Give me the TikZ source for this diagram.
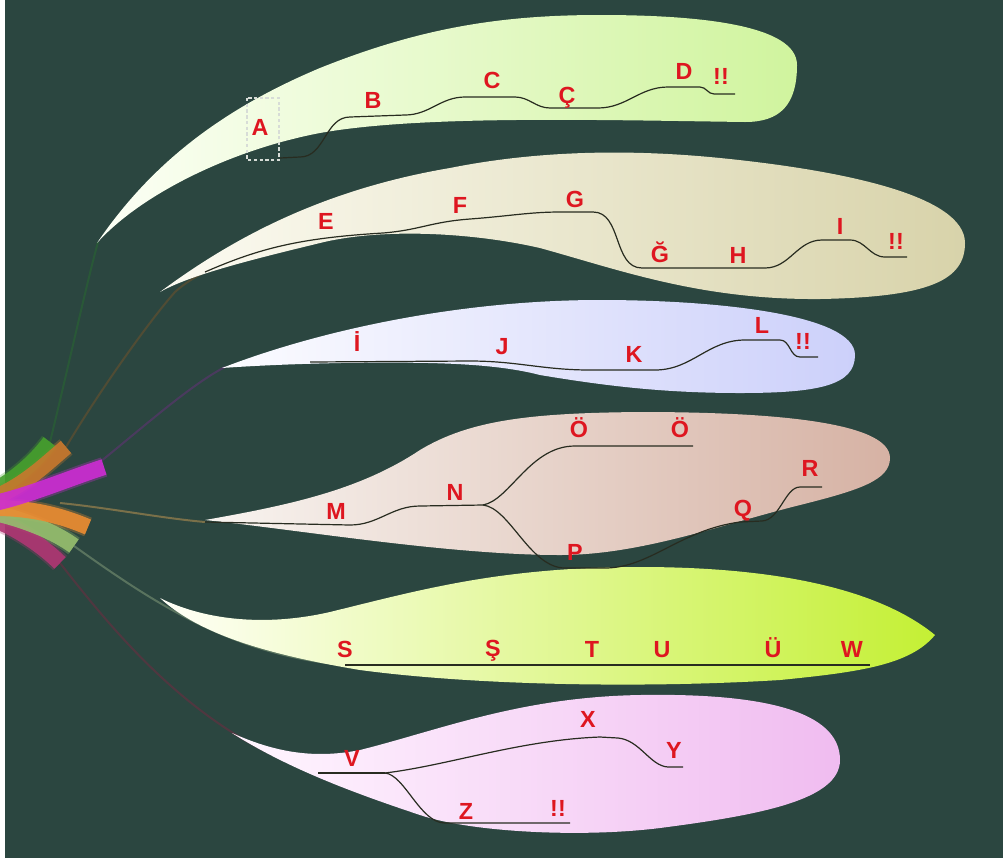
\documentclass[tikz,border=0pt]{standalone}
\usepackage{fontspec}
\setmainfont{Liberation Sans}
\definecolor{bg}{RGB}{43,70,64}
\definecolor{lblred}{RGB}{222,22,32}
\definecolor{ink}{RGB}{40,44,32}
\definecolor{boxgray}{RGB}{215,220,215}
% leaf gradient ends
\definecolor{leafAl}{RGB}{252,255,246}\definecolor{leafAr}{RGB}{208,244,158}
\definecolor{leafBl}{RGB}{252,251,242}\definecolor{leafBr}{RGB}{216,211,170}
\definecolor{leafCl}{RGB}{252,252,255}\definecolor{leafCr}{RGB}{204,208,250}
\definecolor{leafDl}{RGB}{248,244,240}\definecolor{leafDr}{RGB}{214,178,164}
\definecolor{leafEl}{RGB}{255,255,248}\definecolor{leafEr}{RGB}{196,240,52}
\definecolor{leafFl}{RGB}{255,246,255}\definecolor{leafFr}{RGB}{240,188,240}
% fan colours
\definecolor{fanA}{RGB}{70,160,45}
\definecolor{fanB}{RGB}{200,120,45}
\definecolor{fanC}{RGB}{205,45,210}
\definecolor{fanD}{RGB}{235,140,50}
\definecolor{fanE}{RGB}{150,190,110}
\definecolor{fanF}{RGB}{175,55,115}
% thin connector colours
\definecolor{conA}{RGB}{40,100,50}
\definecolor{conB}{RGB}{105,80,45}
\definecolor{conC}{RGB}{95,50,115}
\definecolor{conD}{RGB}{175,140,80}
\definecolor{conE}{RGB}{120,145,115}
\definecolor{conF}{RGB}{105,45,65}
\begin{document}
\begin{tikzpicture}[x=0.75pt,y=-0.75pt,
  lbl/.style={font=\fontsize{17.5}{19}\selectfont\bfseries, text=lblred, anchor=base, inner sep=0pt},
  trail/.style={draw=ink, line width=0.9pt},
  fanstroke/.style={line width=12pt, line cap=butt, opacity=0.9},
  fanhalo/.style={line width=15pt, line cap=butt, opacity=0.3},
  thincon/.style={line width=1.5pt, opacity=0.6},
  markbox/.style={draw=boxgray, line width=0.8pt, dash pattern=on 2.5pt off 1.8pt}]

% background
\fill[bg] (0,0) rectangle (1003,858);
\fill[white] (0,0) rectangle (5,858);
\useasboundingbox (0,0) rectangle (1003,858);

% ---------- fan ends and leaf tips ----------
\coordinate (f1) at (50,442);
\coordinate (f2) at (66,447);
\coordinate (f3) at (95,466);
\coordinate (f4) at (60,503);
\coordinate (f5) at (74,546);
\coordinate (f6) at (60,563);
\coordinate (t1) at (98,242);
\coordinate (t2) at (205,272);
\coordinate (t3) at (225,367);
\coordinate (t4) at (205,522);
\coordinate (t5) at (345,665);
\coordinate (t6) at (318,773);

% ---------- thin connectors from the fan ----------
\draw[thincon, conA] (f1) .. controls (70,360) and (85,290) .. (t1);
\draw[thincon, conB] (f2) .. controls (100,390) and (150,320) .. (175,292) .. controls (185,283) and (195,277) .. (t2);
\draw[thincon, conC] (f3) .. controls (140,430) and (190,385) .. (t3);
\draw[thincon, conD] (f4) .. controls (110,508) and (160,518) .. (t4);
\draw[thincon, conE] (f5) .. controls (150,600) and (230,655) .. (t5);
\draw[thincon, conF] (f6) .. controls (120,640) and (200,735) .. (t6);

% ---------- leaves ----------
\shade[left color=leafAl, right color=leafAr]
  (97,243) .. controls (150,165) and (220,110) .. (320,68)
  .. controls (420,28) and (500,15) .. (600,15)
  .. controls (700,15) and (797,25) .. (797,65)
  .. controls (797,105) and (780,122) .. (745,122)
  .. controls (600,120) and (420,115) .. (320,133)
  .. controls (230,150) and (140,195) .. (97,243) -- cycle;

\shade[left color=leafBl, right color=leafBr]
  (160,292) .. controls (230,240) and (320,190) .. (450,168)
  .. controls (530,152) and (620,148) .. (720,158)
  .. controls (840,170) and (965,195) .. (965,243)
  .. controls (965,280) and (930,297) .. (820,299)
  .. controls (700,300) and (620,270) .. (540,248)
  .. controls (470,232) and (380,228) .. (320,243)
  .. controls (250,260) and (190,275) .. (160,292) -- cycle;

\shade[left color=leafCl, right color=leafCr]
  (222,368) .. controls (320,330) and (460,300) .. (600,300)
  .. controls (720,300) and (855,315) .. (855,355)
  .. controls (855,385) and (820,393) .. (740,393)
  .. controls (660,393) and (600,385) .. (540,375)
  .. controls (490,362) and (420,362) .. (340,363)
  .. controls (290,364) and (250,366) .. (222,368) -- cycle;

\shade[left color=leafDl, right color=leafDr]
  (205,520) .. controls (290,505) and (360,490) .. (420,450)
  .. controls (470,420) and (530,413) .. (640,412)
  .. controls (760,412) and (890,420) .. (890,458)
  .. controls (890,480) and (860,490) .. (800,505)
  .. controls (720,525) and (640,555) .. (560,555)
  .. controls (450,555) and (300,530) .. (205,520) -- cycle;

\shade[left color=leafEl, right color=leafEr]
  (160,598) .. controls (200,618) and (260,628) .. (330,612)
  .. controls (420,590) and (500,567) .. (640,567)
  .. controls (780,567) and (880,590) .. (935,635)
  .. controls (910,665) and (860,672) .. (780,680)
  .. controls (650,688) and (480,686) .. (360,670)
  .. controls (270,655) and (200,635) .. (160,598) -- cycle;

\shade[left color=leafFl, right color=leafFr]
  (232,733) .. controls (270,750) and (310,760) .. (360,750)
  .. controls (440,730) and (520,697) .. (640,695)
  .. controls (760,693) and (840,710) .. (840,760)
  .. controls (840,800) and (760,815) .. (660,828)
  .. controls (580,838) and (470,832) .. (420,815)
  .. controls (360,795) and (290,770) .. (232,733) -- cycle;

% ---------- fan of coloured strokes (soft halo, then core) ----------
\foreach \sty in {fanhalo,fanstroke}{
  \draw[\sty, fanF] (-5,520) .. controls (20,530) and (45,548) .. (f6);
  \draw[\sty, fanE] (-5,513) .. controls (25,520) and (55,532) .. (f5);
  \draw[\sty, fanA] (-5,490) .. controls (20,476) and (38,458) .. (f1);
  \draw[\sty, fanB] (-5,497) .. controls (25,485) and (48,462) .. (f2);
  \draw[\sty, fanD] (-5,508) .. controls (30,508) and (60,515) .. (88,527);
  \draw[\sty, fanC] (-5,503) .. controls (30,495) and (70,478) .. (104,467);
}

% ---------- trails inside the leaves ----------
% leaf 1
\draw[trail] (280,158) -- (300,157) to[out=0,in=180] (350,117) -- (405,115)
  to[out=0,in=180] (465,97) -- (515,97) to[out=0,in=180] (550,108) -- (598,108)
  to[out=0,in=180] (668,87) -- (700,87) to[out=0,in=180] (714,94) -- (735,94);
% leaf 2
\draw[trail] (t2) .. controls (260,248) and (300,238) .. (383,233)
  .. controls (420,230) and (430,222) .. (470,219)
  .. controls (510,216) and (530,212) .. (560,212) -- (593,212)
  to[out=0,in=180] (642,268) -- (765,268) to[out=0,in=180] (822,240) -- (850,240)
  to[out=0,in=180] (885,257) -- (907,257);
% leaf 3
\draw[trail] (310,362) -- (470,361) to[out=0,in=180] (590,370) -- (655,370)
  to[out=0,in=180] (745,340) -- (780,340) to[out=0,in=180] (800,357) -- (818,357);
% leaf 4
\coordinate (forkN) at (483,505);
\draw[trail] (t4) -- (350,525) to[out=0,in=180] (420,506) -- (forkN);
\draw[trail] (forkN) .. controls (510,500) and (530,446) .. (575,446) -- (693,446);
\draw[trail] (forkN) .. controls (510,508) and (530,568) .. (565,568) -- (605,568)
  .. controls (650,568) and (680,530) .. (740,522) -- (762,521)
  .. controls (780,520) and (785,487) .. (800,487) -- (822,487);
% leaf 5
\draw[trail] (t5) -- (870,665);
% leaf 6
\coordinate (forkV) at (385,773);
\draw[trail] (t6) -- (forkV);
\draw[trail] (forkV) .. controls (450,765) and (520,740) .. (600,737) -- (618,738)
  .. controls (640,740) and (650,766) .. (668,767) -- (683,767);
\draw[trail] (forkV) .. controls (405,775) and (420,823) .. (445,823) -- (570,823);

% dashed marker round A
\draw[markbox] (247,98) rectangle (279,160);

% ---------- labels ----------
\node[lbl] (lA) at (260,135) {A};
\node[lbl] (lB) at (373,108) {B};
\node[lbl] (lC) at (492,88) {C};
\node[lbl] (lCc) at (567,103) {Ç};
\node[lbl] (lD) at (684,79) {D};
\node[lbl] (lX1) at (721,84) {!!};

\node[lbl] (lE) at (326,229) {E};
\node[lbl] (lF) at (460,213) {F};
\node[lbl] (lG) at (575,207) {G};
\node[lbl] (lGb) at (660,262) {Ğ};
\node[lbl] (lH) at (738,263) {H};
\node[lbl] (lI) at (840,234) {I};
\node[lbl] (lX2) at (896,249) {!!};

\node[lbl] (lId) at (357,351) {İ};
\node[lbl] (lJ) at (502,354) {J};
\node[lbl] (lK) at (634,362) {K};
\node[lbl] (lL) at (762,333) {L};
\node[lbl] (lX3) at (803,349) {!!};

\node[lbl] (lM) at (336,519) {M};
\node[lbl] (lN) at (455,500) {N};
\node[lbl] (lO) at (579,437) {Ö};
\node[lbl] (lOd) at (680,437) {Ö};
\node[lbl] (lP) at (575,560) {P};
\node[lbl] (lQ) at (743,516) {Q};
\node[lbl] (lR) at (810,476) {R};

\node[lbl] (lS) at (345,657) {S};
\node[lbl] (lSc) at (493,656) {Ş};
\node[lbl] (lT) at (592,657) {T};
\node[lbl] (lU) at (662,657) {U};
\node[lbl] (lUd) at (773,657) {Ü};
\node[lbl] (lW) at (852,657) {W};

\node[lbl] (lV) at (352,766) {V};
\node[lbl] (lXx) at (588,727) {X};
\node[lbl] (lY) at (674,758) {Y};
\node[lbl] (lZ) at (466,819) {Z};
\node[lbl] (lX4) at (558,816) {!!};
\end{tikzpicture}
\end{document}
